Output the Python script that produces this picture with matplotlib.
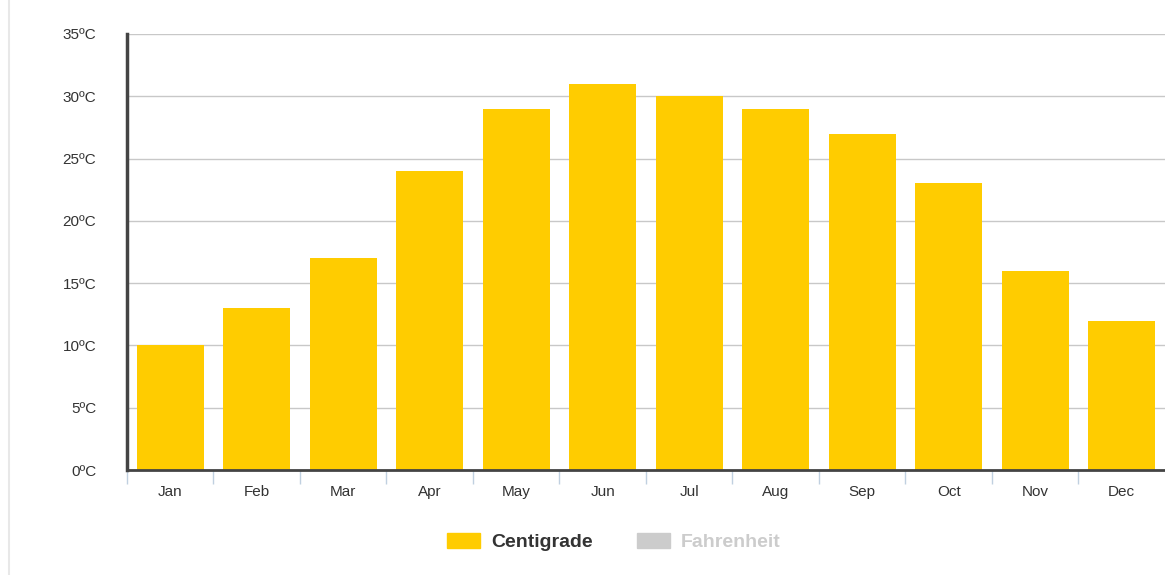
import numpy as np
import matplotlib.pyplot as plt
from matplotlib.patches import Patch
from matplotlib.lines import Line2D

plt.rcParams['font.family'] = ['Liberation Sans', 'DejaVu Sans']

# datos
meses = ["Jan", "Feb", "Mar", "Apr", "May", "Jun", "Jul", "Aug", "Sep", "Oct", "Nov", "Dec"]
centigrados = [10, 13, 17, 24, 29, 31, 30, 29, 27, 23, 16, 12]
y_ticks = [0, 5, 10, 15, 20, 25, 30, 35]

fig = plt.figure(figsize=(11.65, 5.75), dpi=100)
ax = fig.add_axes([0.109, 0.1826, 0.891, 0.7583])

x = np.arange(len(meses))
ax.bar(x, centigrados, width=0.775, color="#FFCC00", zorder=3)

ax.set_xlim(-0.5, len(meses) - 0.5)
ax.set_ylim(0, 35)
ax.set_yticks(y_ticks)
ax.set_yticklabels([f"{v}ºC" for v in y_ticks], fontsize=11, color="#333333")
ax.set_xticks(x)
ax.set_xticklabels(meses, fontsize=11, color="#333333")
ax.tick_params(axis="x", which="major", length=0, pad=11)
ax.tick_params(axis="y", length=0, pad=22)
ax.set_xticks(np.arange(-0.5, len(meses) - 0.5, 1), minor=True)
ax.tick_params(axis="x", which="minor", length=10, width=1, color="#C0D0E0", direction="out")

ax.grid(axis="y", color="#C8C8C8", linewidth=1, zorder=0)
for s in ["top", "right"]:
    ax.spines[s].set_visible(False)
ax.spines["left"].set_color("#444444")
ax.spines["left"].set_linewidth(2.5)
ax.spines["bottom"].set_color("#444444")
ax.spines["bottom"].set_linewidth(2)
ax.spines["left"].set_zorder(5)
ax.spines["bottom"].set_zorder(5)

handles = [Patch(color="#FFCC00", label="Centigrade"), Patch(color="#CCCCCC", label="Fahrenheit")]
leg = fig.legend(handles=handles, loc="center", bbox_to_anchor=(614 / 1165, 1 - 542 / 575), ncol=2,
                 frameon=False, prop={"weight": "bold", "size": 14}, handlelength=1.7, handleheight=0.8,
                 columnspacing=2.3, handletextpad=0.55)
leg.get_texts()[0].set_color("#333333")
leg.get_texts()[1].set_color("#CCCCCC")

# borde de la pagina a la izquierda
fig.add_artist(Line2D([9 / 1165, 9 / 1165], [0, 1], color="#E8E8E8", linewidth=1.5))

fig.savefig("out.png", dpi=100)
